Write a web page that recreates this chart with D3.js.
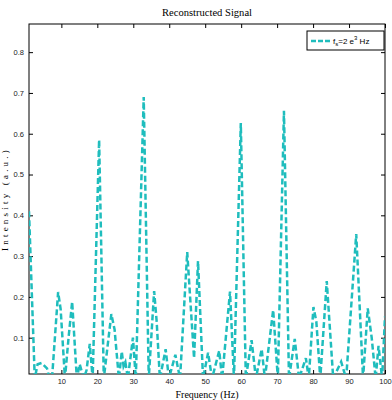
<!DOCTYPE html>
<html>
<head>
<meta charset="utf-8">
<script src="https://cdn.jsdelivr.net/npm/d3@7"></script>
<style>
  body { margin: 0; background: #fff; }
  svg { display: block; }
  .tick text { font-family: "Liberation Sans Narrow", "Arial Narrow", "Liberation Sans", sans-serif; font-size: 7.5px; fill: #222; }
  .tick line { stroke: #000; }
  .domain { display: none; }
</style>
</head>
<body>
<svg id="canvas"></svg>
<script>
// frequency (Hz) and intensity (dips run below the axis)
const freq = [1, 2.6, 3.4, 4.5, 6, 6.7, 7.4, 9.1, 9.8, 11, 12, 13, 14.3, 15.1, 16.2, 17, 17.9, 18.7,
  20.5, 21.8, 23.9, 24.8, 26, 26.8, 27.3, 27.8, 28.5, 29.9, 30.7, 32.9, 34.3, 35.8, 36.5, 37.4,
  39, 39.9, 41.7, 43, 45, 46.9, 48, 49.4, 50.8, 51.9, 53.9, 54.7, 56.9, 58, 59.9, 61.3, 62.9,
  64.1, 65.7, 66.6, 68.9, 70.2, 71.9, 73.3, 74.9, 76.1, 78, 78.8, 80.1, 80.9, 82, 83.8, 85.6,
  87.8, 89.2, 92, 93.9, 95.2, 96.3, 97.4, 98.2, 99.2, 100];
const intensity = [0.41, 0, 0.035, 0.038, 0.025, 0, 0, 0.212, 0.17, 0, 0.1, 0.188, 0, 0.035, 0, 0.02, 0.085, 0,
  0.585, 0, 0.158, 0.12, 0, 0.066, 0.03, 0.04, 0, 0.1, 0, 0.69, 0, 0.214, 0.14, 0,
  0.072, 0, 0.058, 0, 0.31, 0.05, 0.288, 0, 0.063, 0, 0.068, 0, 0.213, 0, 0.626, 0, 0.094,
  0, 0.072, 0, 0.168, 0, 0.656, 0, 0.097, 0, 0.05, 0, 0.175, 0.14, 0, 0.239, 0,
  0.041, 0, 0.354, 0, 0.172, 0.1, 0, 0.08, 0, 0.152];

const xTicks = [10, 20, 30, 40, 50, 60, 70, 80, 90, 100];
const yTicks = [0.1, 0.2, 0.3, 0.4, 0.5, 0.6, 0.7, 0.8];

const width = 392, height = 400;
const pLeft = 29, pRight = 385, pTop = 24, pBottom = 374;
const color = "#1fbdbd";

const svg = d3.select("#canvas").attr("width", width).attr("height", height);

const x = d3.scaleLinear().domain([1, 100]).range([pLeft, pRight]);
const y = d3.scaleLinear().domain([0.011, 0.869]).range([pBottom, pTop]);

svg.append("defs").append("clipPath").attr("id", "clip")
  .append("rect").attr("x", pLeft).attr("y", pTop).attr("width", pRight - pLeft).attr("height", pBottom - pTop);

// axes, ticks pointing inward on all four sides
svg.append("g").attr("transform", `translate(0,${pBottom})`)
  .call(d3.axisBottom(x).tickValues(xTicks).tickSize(-4).tickPadding(5).tickFormat(d3.format("d")));
svg.append("g").attr("transform", `translate(0,${pTop})`)
  .call(d3.axisTop(x).tickValues(xTicks).tickSize(-4).tickFormat(""));
svg.append("g").attr("transform", `translate(${pLeft},0)`)
  .call(d3.axisLeft(y).tickValues(yTicks).tickSize(-4).tickPadding(5).tickFormat(d3.format(".1f")));
svg.append("g").attr("transform", `translate(${pRight},0)`)
  .call(d3.axisRight(y).tickValues(yTicks).tickSize(-4).tickFormat(""));

svg.append("rect")
  .attr("x", pLeft).attr("y", pTop).attr("width", pRight - pLeft).attr("height", pBottom - pTop)
  .attr("fill", "none").attr("stroke", "#000").attr("stroke-width", 1);

const line = d3.line().x((d, i) => x(freq[i])).y(d => y(d));

svg.append("path")
  .datum(intensity)
  .attr("clip-path", "url(#clip)")
  .attr("d", line)
  .attr("fill", "none")
  .attr("stroke", color)
  .attr("stroke-width", 2.5)
  .attr("stroke-dasharray", "6,3");

// title and labels
svg.append("text").attr("x", 207).attr("y", 16).attr("text-anchor", "middle")
  .attr("font-family", "Liberation Serif, serif").attr("font-size", 10)
  .attr("textLength", 90).attr("lengthAdjust", "spacingAndGlyphs")
  .text("Reconstructed Signal");
svg.append("text").attr("x", 207).attr("y", 398).attr("text-anchor", "middle")
  .attr("font-family", "Liberation Serif, serif").attr("font-size", 10)
  .text("Frequency (Hz)");
svg.append("text").attr("transform", `translate(8,${(pTop + pBottom) / 2}) rotate(-90)`)
  .attr("text-anchor", "middle")
  .attr("font-family", "Liberation Serif, serif").attr("font-size", 9)
  .attr("letter-spacing", 3.2)
  .text("Intensity (a.u.)");

// legend
const lg = svg.append("g");
lg.append("rect").attr("x", 307).attr("y", 31).attr("width", 77).attr("height", 19)
  .attr("fill", "#fff").attr("stroke", "#000").attr("stroke-width", 1);
lg.append("line").attr("x1", 311).attr("x2", 331).attr("y1", 41).attr("y2", 41)
  .attr("stroke", color).attr("stroke-width", 2.5).attr("stroke-dasharray", "5,2");
const lt = lg.append("text").attr("x", 333).attr("y", 44)
  .attr("font-family", "Liberation Sans Narrow, Arial Narrow, sans-serif").attr("font-size", 8);
lt.append("tspan").text("f");
lt.append("tspan").attr("font-size", 6).attr("dy", 2).text("s");
lt.append("tspan").attr("dy", -2).text("=2 e");
lt.append("tspan").attr("font-size", 6).attr("dy", -4).text("3");
lt.append("tspan").attr("dy", 4).text(" Hz");
</script>
</body>
</html>
